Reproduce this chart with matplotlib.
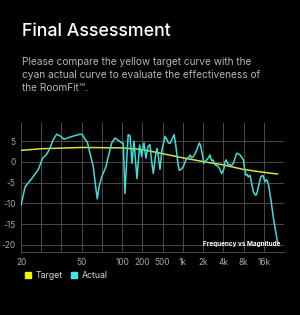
import numpy as np
import matplotlib
matplotlib.use("Agg")
import matplotlib.pyplot as plt
from matplotlib.lines import Line2D

plt.rcParams['font.family'] = ['Inter', 'DejaVu Sans']

# x axis grid (Hz) and labels, evenly spaced on screen
grid_freqs = [20, 30, 40, 50, 70, 100, 200, 500, 1000, 2000, 4000, 8000, 16000, 32000]
grid_labels = ['20', '', '', '50', '', '100', '200', '500', '1k', '2k', '4k', '8k', '16k', '']

# target curve
target_freq = [20, 30, 50, 100, 200, 500, 1000, 2000, 4000, 8000, 16000, 25770]
target_db = [2.8, 3.2, 3.5, 3.4, 3.0, 2.0, 1.0, 0.1, -0.7, -1.8, -2.5, -2.9]

# measured (actual) curve
actual_freq = [20, 21.7, 24.8, 28.3, 30.6, 32.5, 34, 35.6, 37.4, 39.2, 41.1, 43.9,
               49.1, 50.5, 52.8, 54.9, 57.4, 60.6, 63.1, 64.8, 66.7, 69.7, 75.2,
               78.3, 83.2, 88.2, 93.5, 99.2, 104, 110, 117, 123, 131, 140, 150,
               166, 182, 195, 200, 215, 235, 258, 282, 302, 328, 362, 387, 415,
               444, 486, 524, 543, 576, 608, 645, 690, 739, 778, 811, 847, 886,
               940, 1017, 1078, 1143, 1216, 1280, 1357, 1433, 1519, 1610, 1683,
               1760, 1834, 1911, 2062, 2172, 2263, 2407, 2534, 2685, 2808, 3006,
               3165, 3366, 3567, 3782, 3960, 4098, 4240, 4387, 4541, 4747, 5031,
               5334, 5677, 5972, 6329, 6620, 7091, 7464, 7945, 8275, 8712, 9014,
               9425, 9996, 10521, 11197, 11873, 12283, 12835, 13286, 13844, 14423,
               15443, 16110, 16665, 17430, 18035, 18790, 19760, 20810, 22160,
               23900, 25770]
actual_db = [-10.5, -6.0, -4.0, -1.8, 0.9, 1.9, 3.4, 5.4, 6.7, 6.3, 5.5, 6.0,
             6.7, 6.6, 5.5, 4.8, 2.1, -1.1, -6.0, -8.9, -6.0, -3.6, -1.1,
             1.3, 4.6, 5.8, 5.2, 4.6, 4.5, -7.6, 0.5, 6.6, 6.3, -0.3, 5.0,
             -4.0, 4.1, 1.3, 3.0, 4.6, 0.9, 3.7, 4.2, 0.5, -2.8, 1.5, 3.3, 1.2,
             -1.8, 3.0, 5.0, 6.2, 5.5, 4.6, 4.5, 5.5, 6.6, 4.5, 2.1, -0.5, -2.0,
             -1.8, -1.1, 0.0, 0.9, 1.0, 1.7, 1.0, 1.3, 2.0, 2.9, 3.8,
             4.6, 4.0, 2.5, -0.3, 0.3, 0.5, 1.0, 1.7, 0.3, 0.5, -0.7,
             -0.8, -1.1, -1.8, -2.8, -2.2, -1.5, 0.0, 0.5, 0.0, -0.7, -0.6,
             -0.9, -0.2, 0.9, 2.1, 2.0, 1.7, 1.2, 0.5, -1.5, -3.2, -3.0,
             -3.6, -3.2, -5.0, -7.2, -7.9, -8.0, -7.2, -6.0, -4.8, -3.6,
             -3.2, -4.0, -4.8, -4.3, -4.4, -5.5, -7.6, -10.0, -13.3,
             -16.5, -19.5]

y_ticks = [5, 0, -5, -10, -15, -20]

bg = '#000000'
grid_col = '#4a4a4a'
yellow = '#dede3c'
cyan = '#3fdcd6'

idx = np.arange(len(grid_freqs))
log_grid = np.log10(grid_freqs)


def fwd(f):
    f = np.clip(np.asarray(f, dtype=float), 1e-3, None)
    return np.interp(np.log10(f), log_grid, idx)


def inv(x):
    return 10 ** np.interp(x, idx, log_grid)


fig = plt.figure(figsize=(3.0, 3.15), dpi=100, facecolor=bg)

fig.text(22 / 300, 1 - 31 / 315, 'Final Assessment', color='white',
         fontsize=12.8, fontweight='medium', va='center', ha='left')
fig.text(22 / 300, 1 - 57 / 315,
         'Please compare the yellow target curve with the\n'
         'cyan actual curve to evaluate the effectiveness of\n'
         'the RoomFit\u2122.',
         color='#b4b4b4', fontsize=7.3, va='top', ha='left', linespacing=1.35)

ax = fig.add_axes([21 / 300, 1 - 252 / 315, 263 / 300, 129 / 315], facecolor=bg)
ax.set_xscale('function', functions=(fwd, inv))
ax.set_xlim(grid_freqs[0], grid_freqs[-1])
ax.set_ylim(-21.7, 9.4)

ax.plot(target_freq, target_db, color=yellow, lw=1.1, zorder=3, solid_capstyle='round')
ax.plot(actual_freq, actual_db, color=cyan, lw=1.1, zorder=4,
        solid_joinstyle='round', solid_capstyle='round')

ax.set_xticks(grid_freqs)
ax.set_xticklabels(grid_labels)
ax.xaxis.set_minor_locator(matplotlib.ticker.NullLocator())
ax.set_yticks(y_ticks)
ax.set_yticklabels([str(v) for v in y_ticks])
ax.grid(True, color=grid_col, lw=0.7)
ax.tick_params(length=0, colors='#a8a8a8', labelsize=6.0, pad=4)
for s in ['top', 'left', 'right']:
    ax.spines[s].set_visible(False)
ax.spines['bottom'].set_color(grid_col)
ax.spines['bottom'].set_linewidth(0.7)

ax.text(0.985, 0.035, 'Frequency vs Magnitude', transform=ax.transAxes,
        color='white', fontsize=4.6, fontweight='bold', ha='right', va='bottom', zorder=5)

handles = [Line2D([], [], marker='s', ls='none', color='#f4f400', markersize=4.5),
           Line2D([], [], marker='s', ls='none', color='#40e6e6', markersize=4.5)]
leg = fig.legend(handles, ['Target', 'Actual'], loc='center left',
                 bbox_to_anchor=(24 / 300, 1 - 276 / 315), ncol=2, frameon=False,
                 fontsize=6.3, handlelength=0.8, handletextpad=0.5, columnspacing=0.9,
                 borderaxespad=0, borderpad=0)
for t in leg.get_texts():
    t.set_color('#d8d8d8')

fig.savefig('out.png', dpi=100, facecolor=bg)
